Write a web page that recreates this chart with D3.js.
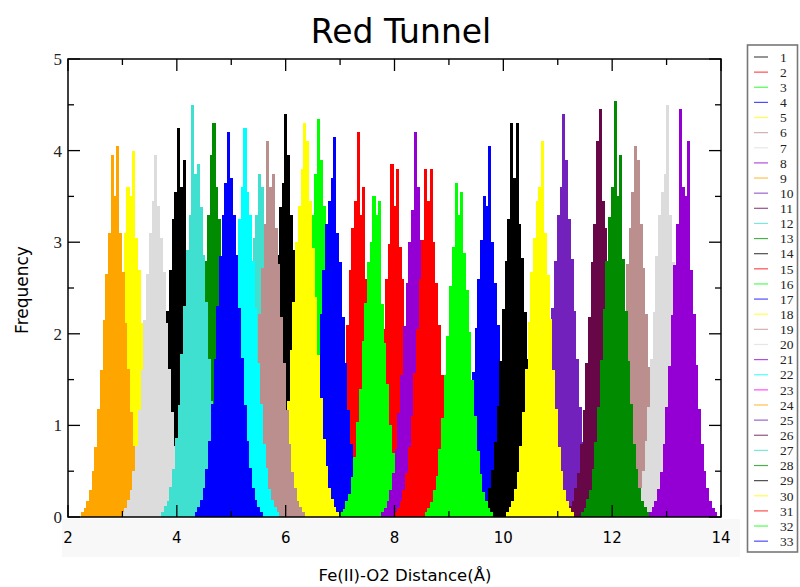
<!DOCTYPE html>
<html>
<head>
<meta charset="utf-8">
<script src="https://cdn.jsdelivr.net/npm/d3@7"></script>
<style>
  html, body { margin: 0; padding: 0; background: #fff; }
  svg { display: block; }
</style>
</head>
<body>
<div id="chart"></div>
<script>
// ---- data ----
const seriesLabels = ['1','2','3','4','5','6','7','8','9','10','11','12','13','14','15','16','17',
  '18','19','20','21','22','23','24','25','26','27','28','29','30','31','32','33'];

// xmgrace default palette, one per set
const seriesColors = ['#000000','#ff0000','#00ff00','#0000ff','#ffff00','#bc8f8f','#dcdcdc','#9400d3',
  '#ffa500','#7221bc','#670748','#40e0d0','#008b00','#000000','#ff0000','#00ff00','#0000ff','#ffff00',
  '#bc8f8f','#dcdcdc','#9400d3','#00ffff','#ff00ff','#ffa500','#7221bc','#670748','#40e0d0','#008b00',
  '#000000','#ffff00','#ff0000','#00ff00','#0000ff'];

// histogram bin width (Å) and left edge of the first bin of each set
const binWidth = 0.05;
const firstBin = [3.405, 6.705, 5.975, 6.225, 2.525, 11.805, 12.345, 12.675, 2.235, 10.485, 11.155,
  4.895, 4.055, 5.375, 7.375, 6.995, 9.075, 5.725, 5.095, 2.985, 7.755, 4.625, null, null, null, null,
  3.715, 11.425, 9.575, 10.045, 7.995, 8.555, 4.325];

// frequencies per bin for each set (sets 23-26 have nothing visible)
const frequencies = [
  [0.04,0.12,0.2,0.3,0.52,0.76,1.22,1.62,2.25,2.7,3.25,3.55,4.25,3.6,3.9,2.8,2.15,1.7,1.15,0.82,0.48,0.33,0.16,0.1,0.04],
  [0.05,0.1,0.19,0.28,0.5,0.8,1.12,1.65,2.1,2.7,3.15,3.45,4.2,3.3,3.6,2.6,2.2,1.58,1.2,0.74,0.5,0.28,0.19,0.09,0.05],
  [0.06,0.12,0.18,0.34,0.52,0.86,1.22,1.8,2.3,2.95,3.3,3.75,4.35,3.9,3.4,2.85,2.35,1.72,1.28,0.82,0.55,0.3,0.2,0.1,0.05],
  [0.05,0.1,0.19,0.3,0.51,0.78,1.2,1.64,2.22,2.7,3.2,3.45,3.7,4.15,3.1,2.78,2.18,1.68,1.17,0.8,0.49,0.32,0.17,0.11,0.05],
  [0.05,0.11,0.17,0.31,0.48,0.78,1.15,1.6,2.16,2.62,3.1,3.6,3.5,4.0,3.05,2.7,2.12,1.62,1.14,0.78,0.47,0.31,0.17,0.1,0.05],
  [0.05,0.11,0.19,0.3,0.5,0.8,1.18,1.68,2.18,2.76,3.15,3.55,4.05,3.9,3.2,2.72,2.22,1.64,1.2,0.78,0.51,0.3,0.18,0.11,0.05],
  [0.06,0.1,0.2,0.32,0.5,0.83,1.2,1.72,2.24,2.85,3.3,3.55,3.75,4.5,3.3,2.78,2.3,1.68,1.24,0.8,0.53,0.3,0.2,0.1,0.06],
  [0.05,0.11,0.18,0.31,0.49,0.8,1.2,1.65,2.2,2.75,3.2,4.45,3.6,3.5,4.1,2.7,2.22,1.66,1.18,0.8,0.5,0.32,0.18,0.1,0.05],
  [0.05,0.1,0.18,0.3,0.5,0.76,1.18,1.6,2.15,2.65,3.1,3.95,3.5,4.05,3.1,2.68,2.12,1.62,1.15,0.78,0.48,0.3,0.18,0.1,0.05],
  [0.06,0.11,0.18,0.32,0.52,0.8,1.24,1.68,2.28,2.8,3.3,3.6,4.4,3.9,3.25,2.82,2.25,1.72,1.2,0.82,0.51,0.32,0.19,0.11,0.06],
  [0.05,0.12,0.17,0.32,0.48,0.8,1.17,1.68,2.18,2.78,3.2,4.1,4.45,3.45,3.15,2.7,2.24,1.63,1.2,0.77,0.51,0.3,0.19,0.1,0.05],
  [0.05,0.1,0.18,0.28,0.49,0.74,1.14,1.55,2.1,2.55,3.05,3.3,3.75,3.6,3.05,2.6,2.05,1.58,1.1,0.76,0.47,0.3,0.16,0.1,0.05],
  [0.06,0.11,0.19,0.3,0.53,0.8,1.23,1.68,2.28,2.8,3.3,3.95,4.3,3.6,3.25,2.84,2.24,1.72,1.2,0.83,0.51,0.32,0.18,0.11,0.06],
  [0.06,0.11,0.2,0.31,0.54,0.83,1.27,1.73,2.35,2.86,3.38,3.65,4.4,3.95,3.3,2.92,2.3,1.78,1.23,0.85,0.52,0.33,0.18,0.11,0.06],
  [0.05,0.1,0.17,0.3,0.47,0.76,1.1,1.58,2.05,2.6,2.98,3.85,3.4,3.8,2.95,2.6,2.08,1.55,1.13,0.74,0.49,0.28,0.18,0.09,0.05],
  [0.05,0.09,0.17,0.25,0.44,0.66,1.04,1.4,1.92,2.34,2.78,3.0,3.5,3.3,3.45,2.32,1.9,1.45,1.0,0.7,0.42,0.27,0.15,0.09,0.05],
  [0.05,0.1,0.18,0.29,0.47,0.76,1.1,1.58,2.06,2.6,3.02,3.5,3.4,4.05,3.0,2.55,2.1,1.54,1.14,0.74,0.48,0.3,0.17,0.1,0.05],
  [0.06,0.12,0.19,0.34,0.54,0.88,1.27,1.82,2.35,3.0,3.4,3.8,4.3,4.1,3.45,2.94,2.4,1.77,1.3,0.85,0.56,0.32,0.2,0.11,0.06],
  [0.05,0.1,0.19,0.32,0.49,0.8,1.18,1.67,2.22,2.72,3.2,4.1,3.6,3.75,3.15,2.76,2.18,1.68,1.17,0.8,0.49,0.32,0.17,0.11,0.05],
  [0.05,0.1,0.19,0.3,0.5,0.78,1.17,1.6,2.15,2.65,3.1,3.45,3.95,3.4,3.05,2.68,2.12,1.62,1.15,0.78,0.48,0.3,0.18,0.1,0.05],
  [0.05,0.1,0.17,0.3,0.48,0.74,1.13,1.55,2.08,2.56,3.0,3.35,4.2,3.6,3.02,2.58,2.05,1.57,1.1,0.76,0.47,0.29,0.17,0.1,0.05],
  [0.06,0.11,0.19,0.31,0.52,0.82,1.2,1.72,2.25,2.83,3.25,3.6,4.25,3.55,3.3,2.8,2.28,1.68,1.23,0.8,0.53,0.31,0.19,0.11,0.06],
  [],
  [],
  [],
  [],
  [0.06,0.12,0.18,0.33,0.52,0.86,1.22,1.78,2.3,2.92,3.3,4.5,3.75,3.85,3.38,2.86,2.35,1.72,1.27,0.82,0.54,0.31,0.2,0.1,0.06],
  [0.06,0.1,0.2,0.3,0.52,0.82,1.2,1.71,2.27,2.8,3.28,3.6,4.54,3.5,3.95,2.82,2.25,1.7,1.23,0.8,0.52,0.32,0.18,0.11,0.06],
  [0.06,0.11,0.18,0.32,0.51,0.82,1.21,1.7,2.27,2.8,3.25,4.3,3.7,4.3,3.2,2.83,2.24,1.72,1.2,0.82,0.5,0.32,0.19,0.11,0.06],
  [0.05,0.11,0.17,0.31,0.49,0.78,1.15,1.62,2.13,2.68,3.05,3.45,3.6,4.1,3.1,2.64,2.16,1.6,1.18,0.76,0.5,0.29,0.18,0.1,0.05],
  [0.05,0.1,0.18,0.29,0.48,0.76,1.1,1.57,2.05,2.6,3.02,3.8,3.45,3.8,3.0,2.56,2.1,1.55,1.13,0.75,0.47,0.3,0.17,0.1,0.05],
  [0.05,0.1,0.16,0.29,0.45,0.74,1.08,1.55,1.98,2.52,2.95,3.65,3.3,3.55,2.88,2.48,2.02,1.5,1.1,0.72,0.47,0.27,0.17,0.1,0.05],
  [0.06,0.11,0.19,0.32,0.52,0.83,1.23,1.72,2.3,2.85,3.3,3.65,4.2,3.7,3.3,2.86,2.28,1.74,1.22,0.83,0.53,0.32,0.19,0.11,0.06]
];

const xTicks = [2, 4, 6, 8, 10, 12, 14];
const yTicks = [0, 1, 2, 3, 4, 5];

// ---- layout ----
const width = 800, height = 587;
const plot = { left: 68, right: 721, top: 59, bottom: 517 };

const svg = d3.select('#chart').append('svg')
  .attr('width', width)
  .attr('height', height)
  .style('font-family', '"DejaVu Sans", sans-serif');

const x = d3.scaleLinear().domain([2, 14]).range([plot.left, plot.right]);
const y = d3.scaleLinear().domain([0, 5]).range([plot.bottom, plot.top]);

// faint band behind the x tick labels
svg.append('rect')
  .attr('x', 62).attr('y', 519)
  .attr('width', 678).attr('height', 38)
  .attr('fill', '#f8f8f8');

// histograms, drawn in set order so later sets sit on top
const barW = x(binWidth) - x(0);

svg.append('clipPath').attr('id', 'plotClip')
  .append('rect')
  .attr('x', plot.left).attr('y', plot.top)
  .attr('width', plot.right - plot.left).attr('height', plot.bottom - plot.top);

const bars = svg.append('g')
  .attr('clip-path', 'url(#plotClip)')
  .attr('shape-rendering', 'crispEdges');

frequencies.forEach((vals, s) => {
  if (!vals.length) return;
  bars.append('g')
    .attr('fill', seriesColors[s])
    .selectAll('rect')
    .data(vals)
    .join('rect')
    .attr('x', (d, i) => x(firstBin[s] + i * binWidth))
    .attr('width', barW + 0.4)
    .attr('y', d => y(d))
    .attr('height', d => y(0) - y(d));
});

// ---- axes: ticks point inward on all four sides ----
const axes = svg.append('g').attr('stroke', '#000').attr('fill', 'none');

axes.append('rect')
  .attr('x', plot.left).attr('y', plot.top)
  .attr('width', plot.right - plot.left).attr('height', plot.bottom - plot.top)
  .attr('stroke-width', 1.5);

const xMinor = d3.range(3, 14, 2);
const yMinor = d3.range(0.5, 5, 1);

function tickLines(vals, len, horizontal) {
  vals.forEach(v => {
    if (horizontal) {
      const px = x(v);
      axes.append('line').attr('x1', px).attr('x2', px).attr('y1', plot.bottom).attr('y2', plot.bottom - len);
      axes.append('line').attr('x1', px).attr('x2', px).attr('y1', plot.top).attr('y2', plot.top + len);
    } else {
      const py = y(v);
      axes.append('line').attr('y1', py).attr('y2', py).attr('x1', plot.left).attr('x2', plot.left + len);
      axes.append('line').attr('y1', py).attr('y2', py).attr('x1', plot.right).attr('x2', plot.right - len);
    }
  });
}
tickLines(xTicks, 12, true);
tickLines(xMinor, 6, true);
tickLines(yTicks, 12, false);
tickLines(yMinor, 6, false);
axes.selectAll('line').attr('stroke-width', 1.3);

// tick labels
svg.append('g')
  .selectAll('text')
  .data(xTicks)
  .join('text')
  .attr('x', d => x(d))
  .attr('y', 543)
  .attr('text-anchor', 'middle')
  .attr('font-size', 15)
  .text(d => d);

svg.append('g')
  .selectAll('text')
  .data(yTicks)
  .join('text')
  .attr('x', 62)
  .attr('y', d => y(d))
  .attr('dy', '0.35em')
  .attr('text-anchor', 'end')
  .attr('font-family', '"Liberation Serif", "Times New Roman", serif')
  .attr('font-size', 17)
  .attr('fill', '#222')
  .text(d => d);

// titles
svg.append('text')
  .attr('x', 401).attr('y', 43)
  .attr('text-anchor', 'middle')
  .attr('font-size', 33)
  .text('Red Tunnel');

svg.append('text')
  .attr('x', 405).attr('y', 581)
  .attr('text-anchor', 'middle')
  .attr('font-size', 16.5)
  .text('Fe(II)-O2 Distance(Å)');

svg.append('text')
  .attr('transform', 'translate(28,290) rotate(-90)')
  .attr('text-anchor', 'middle')
  .attr('font-size', 17)
  .text('Frequency');

// ---- legend ----
const legend = svg.append('g');
legend.append('rect')
  .attr('x', 747.5).attr('y', 45)
  .attr('width', 50).attr('height', 507)
  .attr('fill', '#fff')
  .attr('stroke', '#777')
  .attr('stroke-width', 1.6);

const item = legend.selectAll('g.item')
  .data(seriesLabels)
  .join('g')
  .attr('class', 'item')
  .attr('transform', (d, i) => `translate(0, ${57 + i * 15.13})`);

item.append('line')
  .attr('x1', 754).attr('x2', 768)
  .attr('stroke', (d, i) => seriesColors[i])
  .attr('stroke-opacity', 0.7)
  .attr('stroke-width', 1.2);

item.append('text')
  .attr('x', 780)
  .attr('dy', '0.35em')
  .attr('font-family', '"Liberation Serif", "Times New Roman", serif')
  .attr('font-size', 13.5)
  .attr('fill', '#222')
  .text(d => d);
</script>
</body>
</html>
